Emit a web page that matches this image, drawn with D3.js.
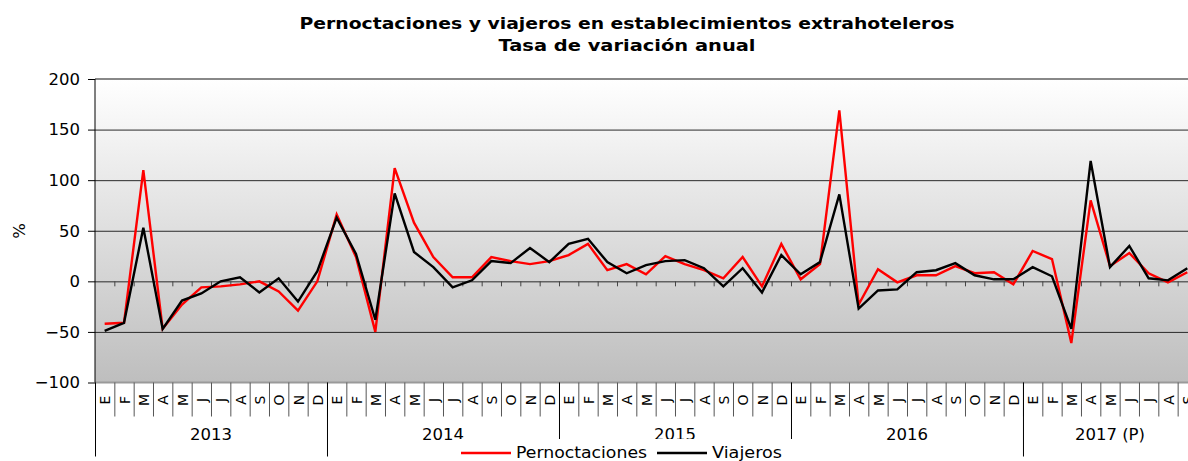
<!DOCTYPE html>
<html lang="es">
  <head>
    <meta charset="UTF-8" />
    <title>Pernoctaciones y viajeros en establecimientos extrahoteleros</title>
    <script src="https://d3js.org/d3.v7.min.js"></script>
    <style>
      body {
        margin: 0;
        background: #fff;
      }
      svg text {
        font-family: 'DejaVu Sans', Verdana, sans-serif;
        fill: #000;
      }
      .grid line {
        stroke: #2a2a2a;
        stroke-width: 1;
      }
    </style>
  </head>
  <body>
    <div id="chart"></div>
    <script>
      // data (% annual change)
      const monthLetters = ['E', 'F', 'M', 'A', 'M', 'J', 'J', 'A', 'S', 'O', 'N', 'D'];
      const years = ['2013', '2014', '2015', '2016', '2017 (P)'];
      const monthsPerYear = [12, 12, 12, 12, 9];
      const yTicks = [-100, -50, 0, 50, 100, 150, 200];

      const pernoctaciones = [
        -42, -41, 110, -47, -23, -6, -5, -3, 0, -10, -29, 0,
        66, 24, -50, 112, 58, 24, 4, 4, 24, 20, 17, 20,
        26, 37, 11, 17, 7, 25, 17, 11, 3, 24, -5, 37,
        2, 17, 169, -23, 12, -1, 6, 6, 15, 8, 9, -3,
        30, 22, -61, 80, 15, 28, 8, -1, 9,
      ];
      const viajeros = [
        -49, -41, 53, -47, -19, -12, 0, 4, -11, 3, -20, 10,
        63, 27, -38, 87, 29, 14, -6, 1, 20, 18, 33, 19,
        37, 42, 19, 8, 16, 20, 21, 13, -5, 13, -11, 26,
        7, 19, 86, -27, -9, -8, 9, 11, 18, 6, 2, 2,
        14, 5, -47, 119, 14, 35, 3, 1, 13,
      ];

      const W = 1188;
      const H = 461;
      const left = 95;
      const step = 19.333;
      const n = pernoctaciones.length;

      const svg = d3
        .select('#chart')
        .append('svg')
        .attr('width', W)
        .attr('height', H);

      // scales
      const x = d3
        .scaleBand()
        .domain(d3.range(n))
        .range([left, left + n * step])
        .padding(0);
      const xb = d3
        .scaleLinear()
        .domain([0, n])
        .range([left, left + n * step]);
      const y = d3.scaleLinear().domain([-100, 200]).range([382.5, 79]);
      const cx = (i) => x(i) + x.bandwidth() / 2;

      // background gradient
      const grad = svg
        .append('defs')
        .append('linearGradient')
        .attr('id', 'bg')
        .attr('x1', 0)
        .attr('y1', 0)
        .attr('x2', 0)
        .attr('y2', 1);
      grad.append('stop').attr('offset', '0%').attr('stop-color', '#ffffff');
      grad.append('stop').attr('offset', '100%').attr('stop-color', '#bebebe');

      svg
        .append('rect')
        .attr('x', left)
        .attr('y', y(200))
        .attr('width', n * step)
        .attr('height', y(-100) - y(200))
        .attr('fill', 'url(#bg)');

      // gridlines
      svg
        .append('g')
        .attr('class', 'grid')
        .attr('transform', `translate(${left},0)`)
        .call(
          d3
            .axisLeft(y)
            .tickValues(yTicks.filter((t) => t > -100 && t < 200))
            .tickSize(-(n * step))
            .tickFormat(''),
        )
        .call((g) => g.select('.domain').remove());

      // top and bottom border of the plot
      svg
        .append('line')
        .attr('x1', left)
        .attr('x2', W)
        .attr('y1', y(200))
        .attr('y2', y(200))
        .attr('stroke', '#888')
        .attr('stroke-width', 2);
      svg
        .append('line')
        .attr('x1', left)
        .attr('x2', W)
        .attr('y1', y(-100))
        .attr('y2', y(-100))
        .attr('stroke', '#9a9a9a')
        .attr('stroke-width', 2);

      // small ticks on the zero line
      svg
        .append('g')
        .attr('transform', `translate(0,${y(0)})`)
        .call(
          d3
            .axisBottom(xb)
            .tickValues(d3.range(1, n))
            .tickSize(5)
            .tickFormat(''),
        )
        .call((g) => g.select('.domain').remove())
        .call((g) => g.selectAll('line').attr('stroke', '#444'));

      // y axis
      const yAxis = svg
        .append('g')
        .attr('transform', `translate(${left},0)`)
        .call(d3.axisLeft(y).tickValues(yTicks).tickSize(7).tickPadding(8));
      yAxis.select('.domain').remove();
      yAxis
        .selectAll('text')
        .style('font-size', '16.5px')
        .style('font-family', "'DejaVu Sans', Verdana, sans-serif");
      yAxis.selectAll('line').attr('stroke', '#000');

      svg
        .append('text')
        .attr('transform', `translate(25,231) rotate(-90)`)
        .attr('text-anchor', 'middle')
        .style('font-size', '16.5px')
        .text('%');

      // month separators and labels below the plot
      svg
        .append('g')
        .attr('transform', `translate(0,${y(-100)})`)
        .call(
          d3
            .axisBottom(xb)
            .tickValues(d3.range(0, n + 1))
            .tickSize(34)
            .tickFormat(''),
        )
        .call((g) => g.select('.domain').remove())
        .call((g) => g.selectAll('line').attr('stroke', '#555'));

      const yearStarts = d3.cumsum([0].concat(monthsPerYear.slice(0, -1)));
      svg
        .append('g')
        .attr('transform', `translate(0,${y(-100)})`)
        .call(
          d3
            .axisBottom(xb)
            .tickValues(yearStarts)
            .tickSize(74)
            .tickFormat(''),
        )
        .call((g) => g.select('.domain').remove())
        .call((g) => g.selectAll('line').attr('stroke', '#000'));

      svg
        .append('line')
        .attr('x1', left)
        .attr('x2', left)
        .attr('y1', y(200))
        .attr('y2', y(-100))
        .attr('stroke', '#000');

      svg
        .append('g')
        .selectAll('text')
        .data(d3.range(n))
        .join('text')
        .attr('transform', (i) => `translate(${cx(i) + 0.5},400) rotate(-90)`)
        .attr('text-anchor', 'middle')
        .attr('dy', '0.36em')
        .style('font-size', '14px')
        .text((i) => monthLetters[i % 12]);

      svg
        .append('g')
        .selectAll('text')
        .data(years)
        .join('text')
        .attr('x', (d, i) => xb(yearStarts[i] + monthsPerYear[i] / 2))
        .attr('y', 440)
        .attr('text-anchor', 'middle')
        .style('font-size', '16.5px')
        .text((d) => d);

      // series lines
      const line = d3
        .line()
        .x((d, i) => cx(i))
        .y((d) => y(d));

      const series = [
        { name: 'Pernoctaciones', values: pernoctaciones, color: '#ff0000', width: 131 },
        { name: 'Viajeros', values: viajeros, color: '#000000', width: 70 },
      ];

      svg
        .append('g')
        .selectAll('path')
        .data(series)
        .join('path')
        .attr('d', (s) => line(s.values))
        .attr('fill', 'none')
        .attr('stroke', (s) => s.color)
        .attr('stroke-width', 2.4)
        .attr('stroke-linejoin', 'miter');

      // title (the original text is drawn a little wider than the font)
      const title = svg
        .append('text')
        .attr('text-anchor', 'middle')
        .style('font-size', '16.5px')
        .style('font-weight', 'bold');
      title
        .append('tspan')
        .attr('x', 627)
        .attr('y', 29)
        .attr('textLength', 655)
        .attr('lengthAdjust', 'spacingAndGlyphs')
        .text('Pernoctaciones y viajeros en establecimientos extrahoteleros');
      title
        .append('tspan')
        .attr('x', 627)
        .attr('y', 51)
        .attr('textLength', 257)
        .attr('lengthAdjust', 'spacingAndGlyphs')
        .text('Tasa de variación anual');

      // legend
      const legend = svg.append('g');
      legend
        .append('rect')
        .attr('x', 455)
        .attr('y', 439)
        .attr('width', 340)
        .attr('height', 30)
        .attr('fill', '#fff');
      const legendPos = [461, 657];
      series.forEach((s, i) => {
        legend
          .append('line')
          .attr('x1', legendPos[i])
          .attr('x2', legendPos[i] + 50)
          .attr('y1', 453)
          .attr('y2', 453)
          .attr('stroke', s.color)
          .attr('stroke-width', 2.4);
        legend
          .append('text')
          .attr('x', legendPos[i] + 55)
          .attr('y', 458)
          .attr('textLength', s.width)
          .attr('lengthAdjust', 'spacingAndGlyphs')
          .style('font-size', '16.5px')
          .text(s.name);
      });
    </script>
  </body>
</html>
